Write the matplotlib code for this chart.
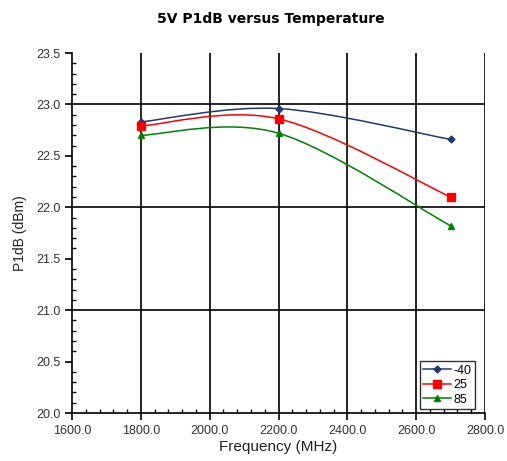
import matplotlib
matplotlib.use("Agg")
import matplotlib.pyplot as plt
from matplotlib.path import Path
from matplotlib.patches import PathPatch
from matplotlib.ticker import MultipleLocator, FormatStrFormatter
import numpy as np

# data
freq = [1800.0, 2200.0, 2700.0]
p1db_m40 = [22.83, 22.96, 22.66]
p1db_25 = [22.79, 22.86, 22.10]
p1db_85 = [22.70, 22.72, 21.82]
labels = ["-40", "25", "85"]
colors = ["#1f3a6e", "#ff0000", "#008000"]
markers = ["D", "s", "^"]
msizes = [3.5, 6, 5]


def smooth_path(x, y):
    # excel-like smoothed line: cubic bezier segments through the points
    pts = np.column_stack([x, y])
    n = len(pts)
    verts = [pts[0]]
    codes = [Path.MOVETO]
    for i in range(n - 1):
        p_prev = pts[max(i - 1, 0)]
        p0 = pts[i]
        p1 = pts[i + 1]
        p_next = pts[min(i + 2, n - 1)]
        c1 = p0 + (p1 - p_prev) / 6.0
        c2 = p1 - (p_next - p0) / 6.0
        verts += [c1, c2, p1]
        codes += [Path.CURVE4] * 3
    return Path(verts, codes)


plt.rcParams["font.family"] = ["Liberation Sans", "DejaVu Sans"]

fig = plt.figure(figsize=(5.07, 4.61), dpi=100)
ax = fig.add_axes([72 / 507, 48 / 461, 413 / 507, 360 / 461])

for ys, lab, c, m, ms in zip([p1db_m40, p1db_25, p1db_85], labels, colors, markers, msizes):
    patch = PathPatch(smooth_path(freq, ys), facecolor="none", edgecolor=c, lw=1.1, zorder=3)
    ax.add_patch(patch)
    ax.plot(freq, ys, linestyle="none", marker=m, color=c, markersize=ms, zorder=4)
    ax.plot([], [], color=c, marker=m, markersize=ms, lw=1.1, label=lab)

ax.set_xlim(1600, 2800)
ax.set_ylim(20.0, 23.5)
ax.xaxis.set_major_locator(MultipleLocator(200))
ax.xaxis.set_minor_locator(MultipleLocator(40))
ax.yaxis.set_major_locator(MultipleLocator(0.5))
ax.yaxis.set_minor_locator(MultipleLocator(0.1))
ax.xaxis.set_major_formatter(FormatStrFormatter("%.1f"))
ax.yaxis.set_major_formatter(FormatStrFormatter("%.1f"))
ax.tick_params(axis="both", which="major", direction="out", length=5, width=1.2, labelsize=9, colors="black")
ax.tick_params(axis="both", which="minor", direction="in", length=3, width=1.0)
for lab in ax.get_xticklabels() + ax.get_yticklabels():
    lab.set_color("#333333")

# grid lines: every 200 MHz, every 1 dB
for gx in [1800, 2000, 2200, 2400, 2600, 2800]:
    ax.axvline(gx, color="black", lw=1.2, zorder=1)
for gy in [21.0, 22.0, 23.0]:
    ax.axhline(gy, color="black", lw=1.2, zorder=1)

ax.spines["top"].set_visible(False)
ax.spines["right"].set_visible(False)
ax.spines["left"].set_linewidth(1.2)
ax.spines["bottom"].set_linewidth(1.2)

ax.set_xlabel("Frequency (MHz)", fontsize=11, color="#222222", labelpad=2)
ax.set_ylabel("P1dB (dBm)", fontsize=10, color="#222222", labelpad=6)
fig.suptitle("5V P1dB versus Temperature", x=0.535, y=0.975, fontsize=10,
             fontweight="bold", family="DejaVu Sans")

leg = ax.legend(loc="lower right", bbox_to_anchor=(0.985, 0.0), fontsize=9, frameon=True,
                fancybox=False, edgecolor="black", handlelength=2.2, handletextpad=0.2,
                borderpad=0.3, labelspacing=0.2, borderaxespad=0.3)
leg.get_frame().set_linewidth(1.0)
leg.set_zorder(5)

fig.savefig("out.png", dpi=100)
